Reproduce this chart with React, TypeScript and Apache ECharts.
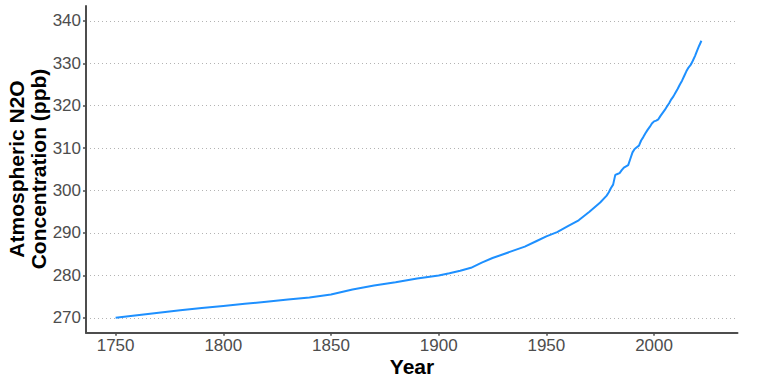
import React, { useEffect, useRef } from "react";
import * as echarts from "echarts";

const years = [
  1750, 1760, 1770, 1780, 1790, 1800, 1810, 1820, 1830, 1840, 1850, 1860, 1870, 1880, 1890,
  1900, 1905, 1910, 1915, 1920, 1925, 1930, 1935, 1940, 1945, 1950, 1955, 1960, 1965, 1970,
  1975, 1978, 1979, 1980, 1981, 1982, 1983, 1984, 1985, 1986, 1987, 1988, 1989, 1990, 1991,
  1992, 1993, 1994, 1995, 1996, 1997, 1998, 1999, 2000, 2001, 2002, 2003, 2004, 2005, 2006,
  2007, 2008, 2009, 2010, 2011, 2012, 2013, 2014, 2015, 2016, 2017, 2018, 2019, 2020, 2021,
  2022,
];
const n2o = [
  270.0, 270.6, 271.2, 271.8, 272.3, 272.8, 273.3, 273.8, 274.3, 274.8, 275.5, 276.7, 277.6,
  278.4, 279.3, 280.0, 280.5, 281.1, 281.8, 283.0, 284.1, 285.0, 285.9, 286.8, 288.0, 289.2,
  290.2, 291.6, 293.0, 295.0, 297.2, 298.8, 299.6, 300.6, 301.4, 303.7, 303.9, 304.1, 304.8,
  305.4, 305.7, 306.0, 307.5, 309.0, 309.8, 310.2, 310.6, 311.8, 312.6, 313.5, 314.3, 315.0,
  315.8, 316.3, 316.5, 316.8, 317.6, 318.3, 319.0, 319.8, 320.6, 321.5, 322.2, 323.1, 324.0,
  325.0, 325.9, 327.0, 328.1, 329.0, 329.6, 330.6, 331.7, 333.0, 334.2, 335.3,
];
const xTicks = [1750, 1800, 1850, 1900, 1950, 2000];
const yTicks = [270, 280, 290, 300, 310, 320, 330, 340];

export default function App() {
  const ref = useRef<HTMLDivElement>(null);
  useEffect(() => {
    if (!ref.current) return;
    const chart = echarts.init(ref.current, null, { renderer: "svg" });
    const axisColor = "#4d4d4d";
    const font = "Liberation Sans, Arial, sans-serif";
    chart.setOption({
      animation: false,
      backgroundColor: "#ffffff",
      grid: { left: 86, right: 30.5, top: 6, bottom: 51.3, containLabel: false },
      xAxis: {
        type: "value",
        min: 1736.25,
        max: 2038.75,
        axisLine: { show: true, lineStyle: { color: axisColor, width: 2 } },
        axisTick: { show: true, length: 3, customValues: xTicks, lineStyle: { color: axisColor, width: 1.5 } },
        axisLabel: {
          customValues: xTicks,
          formatter: (v: number) => String(v),
          margin: 4,
          color: "#4d4d4d",
          fontSize: 17,
          fontFamily: font,
        },
        splitLine: { show: false },
      },
      yAxis: {
        type: "value",
        min: 266.5,
        max: 343.5,
        axisLine: { show: true, lineStyle: { color: axisColor, width: 2 } },
        axisTick: { show: true, length: 3, customValues: yTicks, lineStyle: { color: axisColor, width: 1.5 } },
        axisLabel: {
          customValues: yTicks,
          formatter: (v: number) => String(v),
          margin: 5,
          color: "#4d4d4d",
          fontSize: 17,
          fontFamily: font,
        },
        splitLine: { show: true, lineStyle: { color: "#b3b3b3", type: [1, 3], width: 1 } },
      },
      graphic: [
        {
          type: "text",
          x: 27,
          y: 169,
          rotation: Math.PI / 2,
          style: {
            text: "Atmospheric N2O\nConcentration (ppb)",
            align: "center",
            verticalAlign: "middle",
            fontSize: 21,
            fontWeight: "bold",
            lineHeight: 22,
            fontFamily: font,
            fill: "#000000",
          },
        },
        {
          type: "text",
          x: 412,
          y: 366,
          style: {
            text: "Year",
            align: "center",
            verticalAlign: "middle",
            fontSize: 21,
            fontWeight: "bold",
            fontFamily: font,
            fill: "#000000",
          },
        },
      ],
      series: [
        {
          type: "line",
          data: years.map((y, i) => [y, n2o[i]]),
          showSymbol: false,
          symbol: "none",
          lineStyle: { color: "#1E90FF", width: 2 },
        },
      ],
    });
    return () => chart.dispose();
  }, []);
  return (
    <div
      ref={ref}
      style={{ position: "fixed", left: 0, top: 0, width: 768, height: 384 }}
    />
  );
}
